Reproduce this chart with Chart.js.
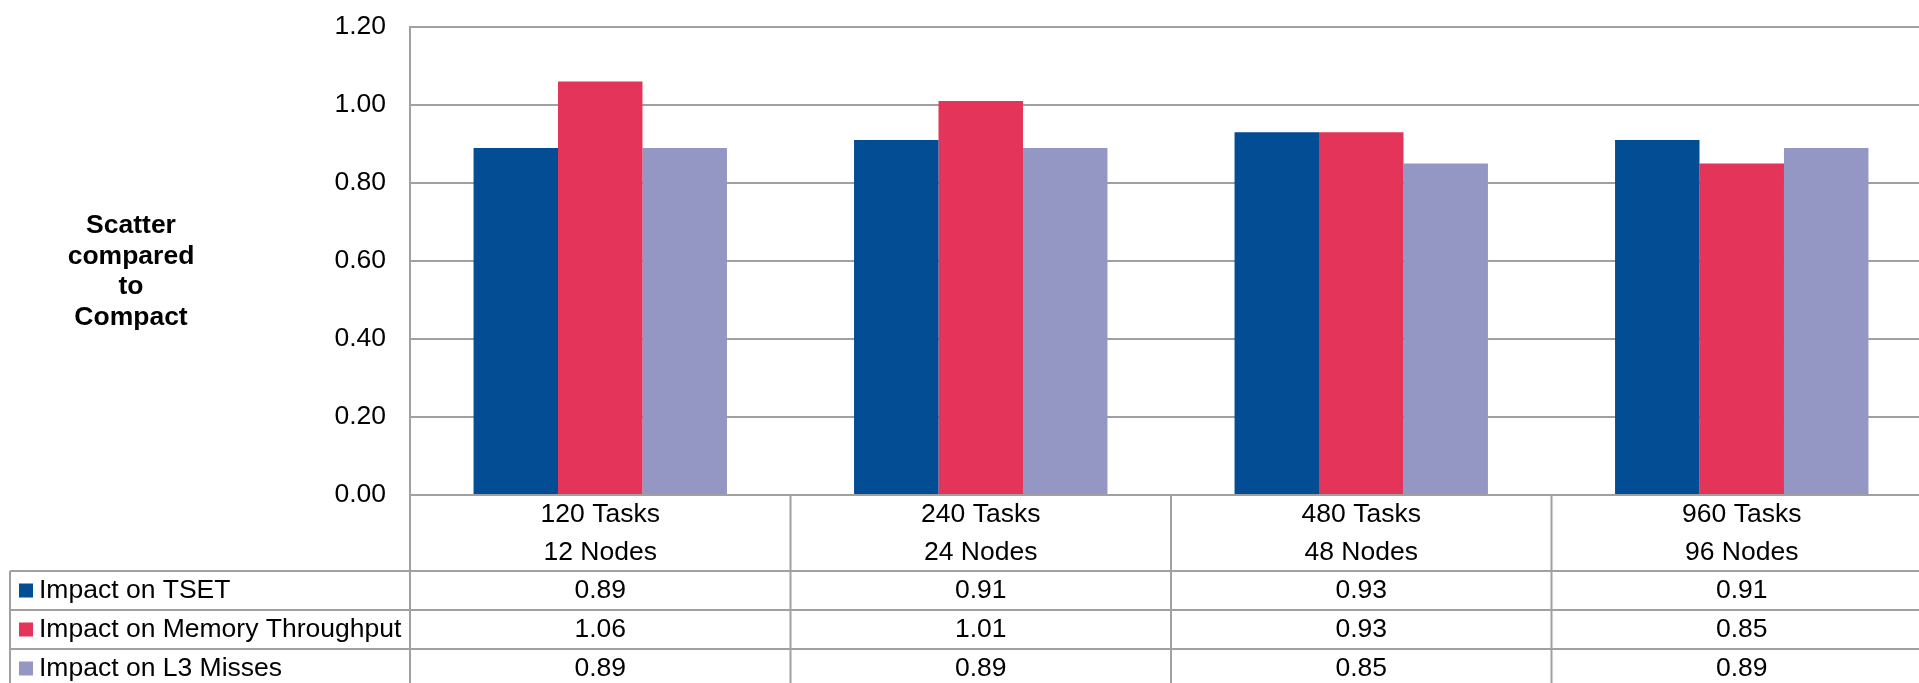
<!DOCTYPE html>
<html>
<head>
<meta charset="utf-8">
<script src="https://cdn.jsdelivr.net/npm/chart.js@4/dist/chart.umd.min.js"></script>
<style>
  html, body { margin: 0; padding: 0; background: #fff; overflow: hidden; }
</style>
</head>
<body>
<canvas id="myChart" width="1932" height="683"></canvas>
<script>
// data
const taskLabels = ['120 Tasks', '240 Tasks', '480 Tasks', '960 Tasks'];
const nodeLabels = ['12 Nodes', '24 Nodes', '48 Nodes', '96 Nodes'];
const seriesNames = ['Impact on TSET', 'Impact on Memory Throughput', 'Impact on L3 Misses'];
const tset = [0.89, 0.91, 0.93, 0.91];
const memThroughput = [1.06, 1.01, 0.93, 0.85];
const l3Misses = [0.89, 0.89, 0.85, 0.89];
const yTitle = ['Scatter', 'compared', 'to', 'Compact'];

const colors = ['#024D94', '#E43459', '#9497C4'];
const lineColor = '#A0A0A0';
const fontFamily = '"Liberation Sans", Arial, sans-serif';
const fontSize = 26.5;

const labels = taskLabels.map((t, i) => [t, nodeLabels[i]]);

// draws the y title and the data table under the plot
const tablePlugin = {
    id: 'dataTable',
    afterDraw(chart) {
        const ctx = chart.ctx;
        const a = chart.chartArea;
        const xs = chart.scales.x;
        const W = chart.width, H = chart.height;
        const headH = 76, rowH = 39, left = 10;
        const rowTop = a.bottom + headH;

        ctx.save();
        ctx.strokeStyle = lineColor;
        ctx.lineWidth = 2;
        ctx.beginPath();
        for (let r = 0; r < 3; r++) {
            const y = rowTop + r * rowH;
            ctx.moveTo(left, y);
            ctx.lineTo(W, y);
        }
        ctx.moveTo(a.left, a.bottom);
        ctx.lineTo(a.left, H);
        ctx.moveTo(left, rowTop);
        ctx.lineTo(left, H);
        for (let i = 1; i < labels.length; i++) {
            const bx = (xs.getPixelForValue(i - 1) + xs.getPixelForValue(i)) / 2;
            ctx.moveTo(bx, a.bottom);
            ctx.lineTo(bx, H);
        }
        ctx.stroke();

        ctx.fillStyle = '#000';
        ctx.font = fontSize + 'px ' + fontFamily;
        ctx.textAlign = 'center';
        ctx.textBaseline = 'middle';
        labels.forEach((lab, i) => {
            const cx = xs.getPixelForValue(i);
            ctx.fillText(lab[0], cx, a.bottom + 20);
            ctx.fillText(lab[1], cx, a.bottom + 58);
        });

        chart.data.datasets.forEach((ds, d) => {
            const yc = rowTop + rowH * d + rowH / 2;
            ds.data.forEach((v, i) => {
                ctx.fillStyle = '#000';
                ctx.textAlign = 'center';
                ctx.fillText(v.toFixed(2), xs.getPixelForValue(i), yc);
            });
            ctx.fillStyle = ds.backgroundColor;
            ctx.fillRect(19, yc - 7, 14, 14);
            ctx.fillStyle = '#000';
            ctx.textAlign = 'left';
            ctx.fillText(ds.label, 39, yc);
        });

        // y axis title
        ctx.font = 'bold ' + fontSize + 'px ' + fontFamily;
        ctx.textAlign = 'center';
        yTitle.forEach((t, i) => {
            ctx.fillText(t, 131, 226 + i * 30.5);
        });
        ctx.restore();
    }
};

new Chart(document.getElementById('myChart'), {
    type: 'bar',
    data: {
        labels: labels,
        datasets: [
            { label: seriesNames[0], data: tset, backgroundColor: colors[0] },
            { label: seriesNames[1], data: memThroughput, backgroundColor: colors[1] },
            { label: seriesNames[2], data: l3Misses, backgroundColor: colors[2] }
        ]
    },
    options: {
        responsive: false,
        animation: false,
        layout: { padding: { top: 27, bottom: 188, left: 0, right: 0 } },
        datasets: {
            bar: { categoryPercentage: 0.666, barPercentage: 1.0, borderWidth: 0 }
        },
        scales: {
            x: { display: false },
            y: {
                min: 0,
                max: 1.2,
                afterFit: (scale) => {
                    scale.width = 410;
                    scale.paddingTop = 0;
                    scale.paddingBottom = 0;
                },
                ticks: {
                    stepSize: 0.2,
                    padding: 24,
                    color: '#000',
                    font: { family: fontFamily, size: fontSize },
                    callback: (v) => v.toFixed(2)
                },
                grid: { color: lineColor, lineWidth: 2, drawTicks: false },
                border: { color: lineColor, width: 2 }
            }
        },
        plugins: {
            legend: { display: false },
            tooltip: { enabled: false }
        }
    },
    plugins: [tablePlugin]
});
</script>
</body>
</html>
